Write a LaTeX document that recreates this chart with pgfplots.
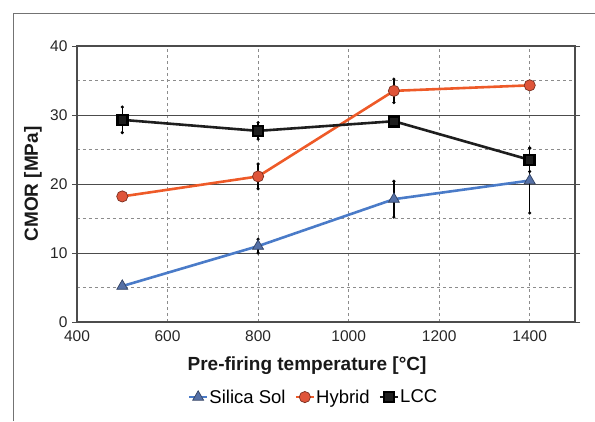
\documentclass[border=0pt]{standalone}
\usepackage{pgfplots}
\pgfplotsset{compat=1.18}
\usepackage{fontspec}
\setmainfont{Liberation Sans}
\definecolor{sblue}{HTML}{4A7BC8}
\definecolor{sbluef}{HTML}{5570A6}
\definecolor{horange}{HTML}{EE5A28}
\definecolor{horangef}{HTML}{DF553A}
\definecolor{lccblack}{HTML}{1E1E1E}
\begin{document}
\begin{tikzpicture}
\path[use as bounding box] (-77pt,-99pt) rectangle (518pt,322pt);
\draw[black!55, line width=0.8pt] (-64pt,-99pt) -- (-64pt,309pt) -- (518pt,309pt);
\begin{axis}[
  at={(0,0)}, anchor=south west,
  scale only axis, width=498pt, height=276pt,
  xmin=400, xmax=1500, ymin=0, ymax=40,
  xtick={400,600,800,1000,1200,1400},
  ytick={0,10,20,30,40},
  minor ytick={5,15,25,35},
  ymajorgrids, yminorgrids, xmajorgrids,
  major grid style={draw=black!70, line width=0.9pt},
  minor grid style={draw=black!45, dashed, line width=0.6pt},
  x grid style={draw=black!45, dashed, line width=0.6pt},
  axis line style={draw=black!70, line width=1.1pt},
  tick style={draw=black!70, line width=0.9pt},
  xtick style={draw=none},
  minor tick length=0pt,
  ytick align=outside, major tick length=5pt,
  /pgf/number format/assume math mode=true,
  /pgf/number format/1000 sep={},
  ticklabel style={font=\fontsize{15.5}{17}\selectfont, text=black!85},
  yticklabel style={xshift=-1pt},
  xticklabel style={yshift=-5pt},
  xlabel={\textbf{Pre-firing temperature [°C]}},
  ylabel={\textbf{CMOR [MPa]}},
  label style={font=\fontsize{19}{21}\selectfont, text=black!90},
  xlabel style={at={(axis description cs:0.462,-0.159)}, anchor=center},
  ylabel style={at={(axis description cs:-0.0884,0.5)}, anchor=center},
  legend columns=3,
  legend style={at={(0.474,-0.272)}, anchor=center, draw=none, fill=none,
    font=\fontsize{18.5}{20}\selectfont,
    /tikz/every odd column/.append style={column sep=0pt},
    /tikz/every even column/.append style={column sep=8pt},
    nodes={inner xsep=1pt}},
  legend image code/.code={
    \draw[#1, mark repeat=2, mark phase=2] plot coordinates {(0pt,0pt) (9pt,0pt) (18pt,0pt)};},
  legend cell align=left,
  error bars/error bar style={black, line width=1.3pt},
  error bars/error mark=*,
  error bars/error mark options={black, mark size=1.4pt},
]
\addplot[sblue, line width=2.6pt, mark=triangle*, mark size=6.3pt,
  mark options={fill=sbluef, draw=sbluef!60!black, line width=0.7pt},
  error bars/.cd, y dir=both, y explicit]
  coordinates {(500,5.2) +- (0,0) (800,11.0) +- (0,1.0) (1100,17.8) +- (0,2.6) (1400,20.5) +- (0,4.7)};
\addlegendentry{Silica Sol}
\addplot[horange, line width=2.6pt, mark=*, mark size=5.6pt,
  mark options={fill=horangef, draw=horangef!55!black, line width=0.7pt},
  error bars/.cd, y dir=both, y explicit]
  coordinates {(500,18.2) +- (0,0.5) (800,21.1) +- (0,1.8) (1100,33.5) +- (0,1.7) (1400,34.3) +- (0,0.4)};
\addlegendentry{Hybrid}
\addplot[lccblack, line width=2.6pt, mark=square*, mark size=5pt,
  mark options={fill=lccblack, draw=black},
  error bars/.cd, y dir=both, y explicit]
  coordinates {(500,29.3) +- (0,1.85) (800,27.7) +- (0,1.2) (1100,29.1) +- (0,0.3) (1400,23.5) +- (0,1.7)};
\addlegendentry{LCC}
\end{axis}
\end{tikzpicture}
\end{document}
